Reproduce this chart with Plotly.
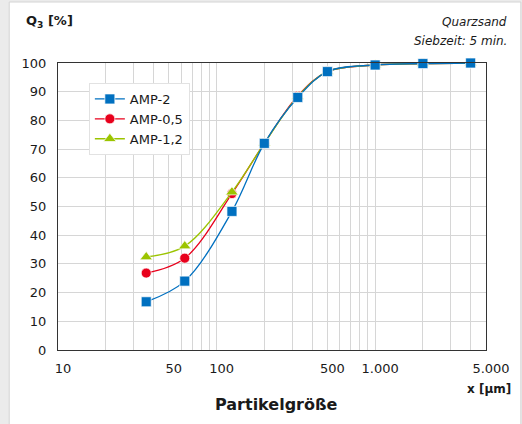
import plotly.graph_objects as go

# ---- data ----
particle_size = [36, 63, 125, 200, 325, 500, 1000, 2000, 4000]
amp_2 = [16.8, 24.0, 48.3, 72.0, 88.0, 97.0, 99.3, 99.8, 100.0]
amp_0_5 = [26.8, 32.0, 54.5, 72.0, 88.5, 97.0, 99.3, 99.8, 100.0]
amp_1_2 = [32.4, 36.2, 55.0, 72.0, 88.3, 97.0, 99.3, 99.8, 100.0]

grid_x = [10, 20, 30, 40, 50, 60, 70, 80, 90,
          100, 200, 300, 400, 500, 600, 700, 800, 900,
          1000, 2000, 3000, 4000, 5000]
labeled_x = {10: "10", 50: "50", 100: "100", 500: "500", 1000: "1.000", 5000: "5.000"}
y_ticks = [0, 10, 20, 30, 40, 50, 60, 70, 80, 90, 100]

# ---- layout geometry (pixels) ----
W, H = 522, 424
L, R, T, B = 58, 488, 63, 350
pw, ph = R - L, B - T

def px_x(x):
    return (x - L) / pw

def px_y(y):
    return (B - y) / ph

FONT = "DejaVu Sans"
BLUE = "#0070C0"
RED = "#E8001C"
GREEN = "#9BC400"

fig = go.Figure()

def add(name, yvals, color, symbol, size, rank):
    fig.add_trace(go.Scatter(
        x=particle_size, y=yvals, name=name,
        mode="lines+markers",
        line=dict(color=color, width=1.3, shape="spline", smoothing=1.0),
        marker=dict(color=color, symbol=symbol, size=size,
                    line=dict(color="rgba(255,255,255,0.7)", width=1)),
        cliponaxis=False, legendrank=rank,
    ))

add("AMP-0,5", amp_0_5, RED, "circle", 10, 2)
add("AMP-1,2", amp_1_2, GREEN, "triangle-up", 11, 3)
add("AMP-2", amp_2, BLUE, "square", 10, 1)

fig.update_layout(
    width=W, height=H,
    margin=dict(l=L, r=W - R, t=T, b=H - B),
    paper_bgcolor="#ebebeb",
    plot_bgcolor="white",
    font=dict(family=FONT, size=13, color="#1a1a1a"),
    showlegend=True,
    legend=dict(
        x=px_x(89), y=px_y(83), xanchor="left", yanchor="top",
        bgcolor="white", bordercolor="#e2e2e2", borderwidth=1,
        font=dict(family=FONT, size=13, color="#1a1a1a"),
        tracegroupgap=0, itemwidth=30,
    ),
    xaxis=dict(
        type="log", range=[1, 3.69897],
        tickmode="array", tickvals=grid_x,
        ticktext=[labeled_x.get(v, "") for v in grid_x],
        showgrid=True, gridcolor="#d6d6d6", gridwidth=1,
        showline=True, linecolor="#333333", linewidth=1, mirror=True,
        ticks="", ticklabelshift=5, ticklabelstandoff=6,
        tickfont=dict(family=FONT, size=13, color="#1a1a1a"),
        zeroline=False,
    ),
    yaxis=dict(
        range=[0, 100], tickmode="array", tickvals=y_ticks,
        showgrid=True, gridcolor="#d6d6d6", gridwidth=1,
        showline=True, linecolor="#333333", linewidth=1, mirror=True,
        ticks="", ticklabelstandoff=8,
        tickfont=dict(family=FONT, size=13, color="#1a1a1a"),
        zeroline=False,
    ),
    shapes=[dict(
        type="rect", xref="paper", yref="paper", layer="below",
        x0=px_x(9), x1=px_x(523), y0=px_y(426), y1=px_y(2),
        fillcolor="white", line=dict(color="#d4d4d4", width=1),
    )],
)

def ann(text, x, y, xanchor, size, bold=False, italic=False):
    if bold:
        text = f"<b>{text}</b>"
    if italic:
        text = f"<i>{text}</i>"
    fig.add_annotation(
        text=text, xref="paper", yref="paper",
        x=px_x(x), y=px_y(y), xanchor=xanchor, yanchor="middle",
        showarrow=False, font=dict(family=FONT, size=size, color="#1a1a1a"),
    )

ann("Q<sub>3</sub> [%]", 24, 21, "left", 13, bold=True)
ann("Quarzsand", 511, 22, "right", 12, italic=True)
ann("Siebzeit: 5 min.", 511, 41, "right", 12, italic=True)
ann("x [µm]", 515, 389, "right", 12, bold=True)
ann("Partikelgröße", 278, 404, "center", 16, bold=True)

fig.write_html(
    "out.html",
    config={"displayModeBar": False},
    post_script="document.body.style.margin='0';document.body.style.background='#ebebeb';",
)
